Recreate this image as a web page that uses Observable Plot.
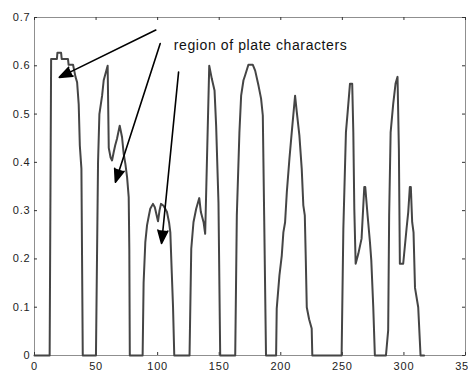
<!DOCTYPE html>
<html><head><meta charset="utf-8">
<script src="https://cdn.jsdelivr.net/npm/d3@7"></script>
<script src="https://cdn.jsdelivr.net/npm/@observablehq/plot@0.6"></script>
<style>
html,body{margin:0;padding:0;background:#fff;}
#chart{width:468px;height:372px;overflow:hidden;}
</style></head>
<body><div id="chart"></div>
<script>
// horizontal-projection profile samples (x position, value)
const sampleX = [
  0, 12.3, 13.5, 18.2, 18.6, 21.6, 22.1, 27.2, 27.7, 31.3, 33.3, 34.6, 35.9, 36.8, 38.1, 39.2,
  49.9, 51.6, 52.7, 54.9, 56.2, 59.4, 60.3, 61.8, 63, 64.3, 65.5, 67, 69.2, 71.1, 72.4, 73.8, 75.2, 76.5, 77, 77.4,
  87.8, 88.6, 90, 91.4, 92.9, 94, 96.2, 97.7, 100.3, 101.5, 102.7, 104.8, 107.6, 109.3, 110.3, 111.5, 112.5, 113.5,
  125.9, 127.3, 129.1, 131.3, 133.8, 135.1, 137.3, 138.6, 141.9, 144, 146.2, 147.5, 149.4, 150.8,
  163, 164.3, 166.4, 167.8, 169.7, 171, 173.7, 177.3, 179.2, 181.9, 184, 185.4, 186.5, 188,
  196.2, 196.7, 198.9, 200.8, 202.1, 203.5, 204.9, 207, 208.9, 211.6, 213, 215.1, 217, 218.3, 219.5, 220.3, 221.1, 223, 225.1, 225.6,
  249.4, 250.8, 252.9, 254.3, 256.2, 258, 258.9, 259.7, 260.8, 262.9, 265.6, 267.8, 268.6, 270.5, 272.4, 273.5, 275.1, 276.4,
  285.4, 287.2, 288, 289.2, 291.3, 293.2, 294.8, 295.9, 296.7, 299.4, 302.1, 303.5, 304.8, 305.6, 306.7, 307.8, 309, 311.6, 313.5, 316.4
];
const sampleY = [
  0, 0, 0.614, 0.614, 0.627, 0.627, 0.614, 0.614, 0.602, 0.602, 0.577, 0.566, 0.52, 0.435, 0.387, 0,
  0, 0.40, 0.50, 0.538, 0.57, 0.60, 0.43, 0.41, 0.404, 0.421, 0.435, 0.449, 0.476, 0.452, 0.418, 0.397, 0.369, 0.328, 0.22, 0,
  0, 0.15, 0.235, 0.27, 0.29, 0.304, 0.314, 0.307, 0.278, 0.3, 0.314, 0.31, 0.297, 0.275, 0.255, 0.17, 0.1, 0,
  0, 0.221, 0.276, 0.304, 0.326, 0.297, 0.276, 0.252, 0.60, 0.573, 0.549, 0.476, 0.317, 0,
  0, 0.29, 0.462, 0.538, 0.57, 0.58, 0.602, 0.602, 0.59, 0.559, 0.532, 0.497, 0.29, 0,
  0, 0.097, 0.166, 0.207, 0.255, 0.276, 0.338, 0.407, 0.462, 0.538, 0.504, 0.456, 0.387, 0.311, 0.29, 0.2, 0.1, 0.075, 0.056, 0,
  0, 0.262, 0.462, 0.504, 0.563, 0.563, 0.462, 0.304, 0.19, 0.21, 0.242, 0.349, 0.349, 0.29, 0.235, 0.197, 0.1, 0,
  0, 0.052, 0.29, 0.462, 0.521, 0.563, 0.577, 0.428, 0.19, 0.19, 0.262, 0.297, 0.349, 0.349, 0.276, 0.255, 0.14, 0.1, 0, 0
];

const xTicks = [0, 50, 100, 150, 200, 250, 300, 350];
const yTicks = [0, 0.1, 0.2, 0.3, 0.4, 0.5, 0.6, 0.7];
const xTickLabels = ["0", "50", "100", "150", "200", "250", "300", "350"];
const yTickLabels = ["0", "0.1", "0.2", "0.3", "0.4", "0.5", "0.6", "0.7"];

const annotationText = ["region of plate characters"];
const annotationX = [113.1];
const annotationY = [0.642];

const arrowFromX = [98.5, 102.1, 117.0];
const arrowFromY = [0.674, 0.646, 0.587];
const arrowToX = [20.1, 65.7, 103.2];
const arrowToY = [0.576, 0.359, 0.232];

const W = 468, H = 372, mL = 34, mR = 3, mT = 17, mB = 17;
const pw = W - mL - mR, ph = H - mT - mB, tl = 3;

const curve = sampleX.map((x, i) => ({x, y: sampleY[i]}));
const arrows = arrowFromX.map((x1, i) => ({x1, y1: arrowFromY[i], x2: arrowToX[i], y2: arrowToY[i]}));
const notes = annotationText.map((t, i) => ({t, x: annotationX[i], y: annotationY[i]}));

const plot = Plot.plot({
  width: W, height: H,
  marginLeft: mL, marginRight: mR, marginTop: mT, marginBottom: mB,
  style: {fontFamily: "'Liberation Sans', Arial, sans-serif", fontSize: "11px", color: "#222", background: "#fff"},
  x: {domain: [0, 350], label: null},
  y: {domain: [0, 0.7], label: null},
  marks: [
    Plot.frame({stroke: "#8f8f8f", strokeWidth: 1}),
    Plot.ruleX(xTicks, {x: d => d, insetTop: ph - tl, stroke: "#333"}),
    Plot.ruleX(xTicks, {x: d => d, insetBottom: ph - tl, stroke: "#333"}),
    Plot.ruleY(yTicks, {y: d => d, insetRight: pw - tl, stroke: "#333"}),
    Plot.ruleY(yTicks, {y: d => d, insetLeft: pw - tl, stroke: "#333"}),
    Plot.axisX(xTicks, {tickSize: 0, tickPadding: 7, label: null, tickFormat: (d) => xTickLabels[xTicks.indexOf(d)]}),
    Plot.axisY(yTicks, {tickSize: 0, tickPadding: 4, label: null, tickFormat: (d) => yTickLabels[yTicks.indexOf(d)]}),
    Plot.line(curve, {x: "x", y: "y", stroke: "#454545", strokeWidth: 2, strokeLinejoin: "round"}),
    Plot.arrow(arrows, {x1: "x1", y1: "y1", x2: "x2", y2: "y2", stroke: "#000", fill: "#000", strokeWidth: 1.6, headLength: 13, headAngle: 42}),
    Plot.text(notes, {x: "x", y: "y", text: "t", textAnchor: "start", fontSize: 14, fill: "#111"})
  ]
});
document.getElementById("chart").appendChild(plot);
const svg = d3.select(plot);
svg.selectAll('g[aria-label="x-axis tick label"], g[aria-label="y-axis tick label"]').attr("letter-spacing", "0.8");
svg.selectAll('g[aria-label="text"]').attr("letter-spacing", "0.6");
</script>
</body></html>
